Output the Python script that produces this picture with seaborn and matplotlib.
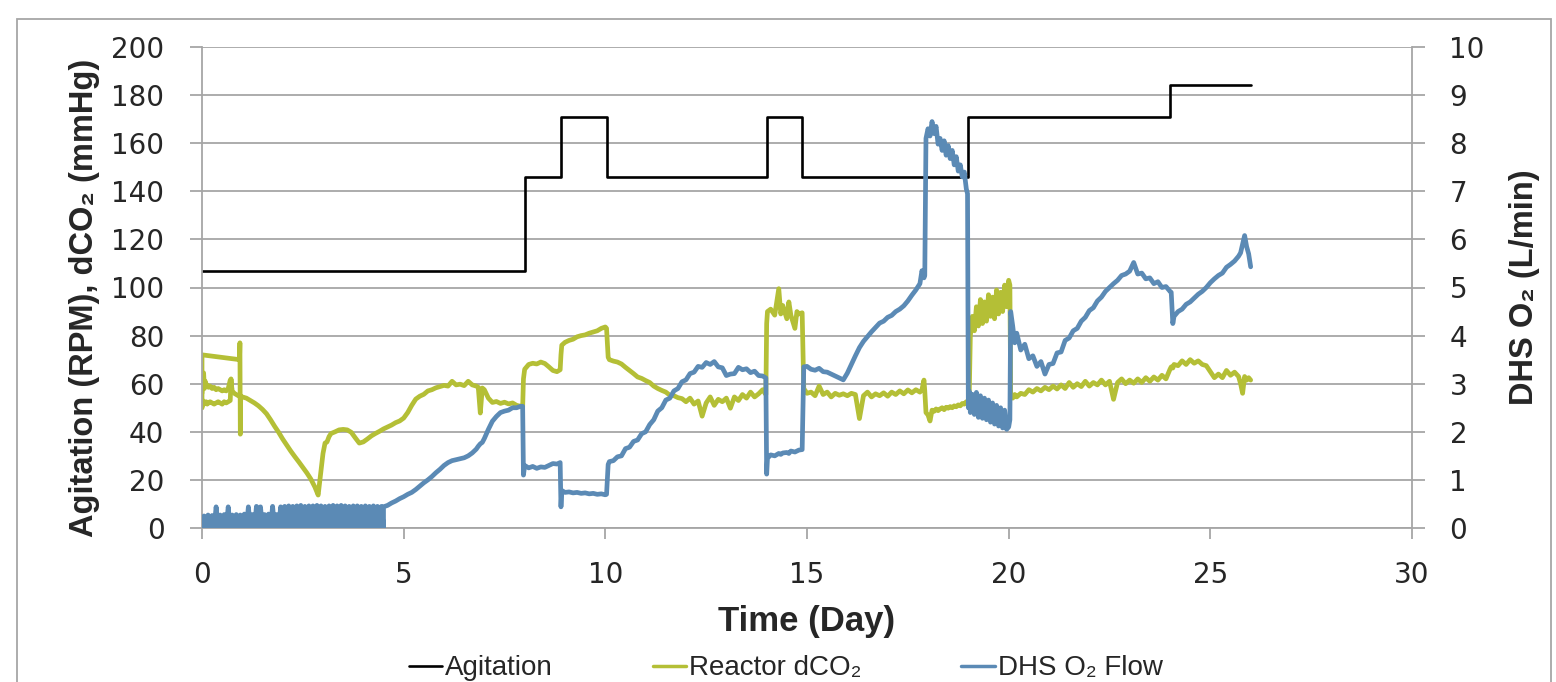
import numpy as np
import pandas as pd
import matplotlib
matplotlib.use("Agg")
import matplotlib.pyplot as plt
from matplotlib.lines import Line2D
from matplotlib.patches import Rectangle
import seaborn as sns

# ---------------- data ----------------
# Agitation set-point (RPM), step changes
agit_day = [0.0, 8.0, 8.9, 10.05, 14.0, 14.87, 19.0, 24.0, 26.0]
agit_rpm = [107, 146, 171, 146, 171, 146, 171, 184, 184]

# Reactor dCO2 (mmHg): start-up pieces (day 0 - 1)
co2_start_a_day = [0.0, 0.0, 0.93, 0.94, 0.95, 0.96]
co2_start_a_val = [50, 72, 70, 77, 39, 55]
co2_start_b_day = [0.0, 0.02, 0.05, 0.08, 0.1, 0.13, 0.16, 0.2, 0.25, 0.3,
                   0.35, 0.4, 0.45, 0.5, 0.55, 0.6, 0.65, 0.7, 0.72, 0.74]
co2_start_b_val = [50, 53, 51.5, 52, 52.5, 51.5, 52, 52.5, 52, 51.5,
                   52, 52.5, 52, 51.5, 52.5, 52, 52.5, 53, 62, 58]
co2_start_c_day = [0.0, 0.02, 0.04, 0.06, 0.08, 0.1, 0.13, 0.16, 0.2, 0.25,
                   0.3, 0.35, 0.4, 0.45, 0.5, 0.55, 0.6, 0.65, 0.7, 0.75,
                   0.8, 0.85, 0.9, 0.95]
co2_start_c_val = [56, 60, 64.5, 58, 61, 59, 59.5, 58.5, 59, 58,
                   58.5, 57.5, 58, 57.5, 57, 57.5, 57, 58, 61.5, 57,
                   56, 55.5, 55, 54.5]

# DHS O2 flow (L/min): pulsed sparging, day 0 - 4.5
o2_pulse_day = [0.0, 0.05, 0.1, 0.15, 0.2, 0.25, 0.3, 0.35, 0.4, 0.45,
                0.5, 0.55, 0.6, 0.65, 0.7, 0.75, 0.8, 0.85, 0.9, 0.95,
                1.0, 1.05, 1.1, 1.15, 1.2, 1.25, 1.3, 1.35, 1.4, 1.45,
                1.5, 1.55, 1.6, 1.65, 1.7, 1.75, 1.8, 1.85, 1.9, 1.95,
                2.0, 2.05, 2.1, 2.15, 2.2, 2.25, 2.3, 2.35, 2.4, 2.45,
                2.5, 2.55, 2.6, 2.65, 2.7, 2.75, 2.8, 2.85, 2.9, 2.95,
                3.0, 3.05, 3.1, 3.15, 3.2, 3.25, 3.3, 3.35, 3.4, 3.45,
                3.5, 3.55, 3.6, 3.65, 3.7, 3.75, 3.8, 3.85, 3.9, 3.95,
                4.0, 4.05, 4.1, 4.15, 4.2, 4.25, 4.3, 4.35, 4.4, 4.45,
                4.5]
o2_pulse_val = [0, 0.25, 0, 0.27, 0, 0.26, 0, 0.44, 0, 0.27,
                0, 0.28, 0, 0.44, 0, 0.27, 0, 0.28, 0, 0.27,
                0, 0.29, 0, 0.44, 0, 0.28, 0, 0.45, 0, 0.44,
                0, 0.28, 0, 0.29, 0, 0.45, 0, 0.28, 0, 0.44,
                0, 0.45, 0, 0.46, 0, 0.45, 0, 0.46, 0, 0.47,
                0, 0.45, 0, 0.46, 0, 0.46, 0, 0.47, 0, 0.46,
                0, 0.45, 0, 0.46, 0, 0.47, 0, 0.46, 0, 0.47,
                0, 0.46, 0, 0.45, 0, 0.46, 0, 0.46, 0, 0.45,
                0, 0.46, 0, 0.45, 0, 0.46, 0, 0.45, 0, 0.45,
                0]

# Main record, shared time base (day)
day = [1.0, 1.1, 1.2, 1.3, 1.4, 1.5, 1.6, 1.7, 1.8, 1.9,
       2.0, 2.1, 2.2, 2.3, 2.4, 2.5, 2.6, 2.7, 2.8, 2.88,
       2.95, 3.0, 3.05, 3.1, 3.15, 3.2, 3.3, 3.4, 3.5, 3.6,
       3.7, 3.8, 3.9, 4.0, 4.1, 4.2, 4.3, 4.4, 4.5, 4.6,
       4.7, 4.8, 4.9, 5.0, 5.1, 5.2, 5.3, 5.4, 5.5, 5.6,
       5.7, 5.8, 5.9, 6.0, 6.1, 6.2, 6.3, 6.4, 6.5, 6.6,
       6.7, 6.8, 6.85, 6.9, 6.95, 7.0, 7.1, 7.2, 7.3, 7.4,
       7.5, 7.6, 7.7, 7.8, 7.9, 7.95, 7.97, 8.0, 8.1, 8.2,
       8.3, 8.4, 8.5, 8.6, 8.7, 8.8, 8.88, 8.9, 8.92, 9.0,
       9.1, 9.2, 9.3, 9.4, 9.5, 9.6, 9.7, 9.8, 9.9, 10.0,
       10.03, 10.07, 10.1, 10.2, 10.3, 10.4, 10.5, 10.6, 10.7, 10.8,
       10.9, 11.0, 11.1, 11.2, 11.3, 11.4, 11.5, 11.6, 11.7, 11.8,
       11.9, 12.0, 12.1, 12.2, 12.3, 12.4, 12.5, 12.6, 12.7, 12.8,
       12.9, 13.0, 13.1, 13.2, 13.3, 13.4, 13.5, 13.6, 13.7, 13.8,
       13.9, 13.98, 14.0, 14.02, 14.1, 14.2, 14.3, 14.35, 14.4, 14.5,
       14.55, 14.6, 14.7, 14.75, 14.8, 14.88, 14.92, 15.0, 15.1, 15.2,
       15.3, 15.4, 15.5, 15.6, 15.7, 15.8, 15.9, 16.0, 16.1, 16.2,
       16.3, 16.4, 16.5, 16.6, 16.7, 16.8, 16.9, 17.0, 17.1, 17.2,
       17.3, 17.4, 17.5, 17.6, 17.7, 17.8, 17.85, 17.9, 17.92, 17.95,
       18.0, 18.05, 18.1, 18.15, 18.2, 18.25, 18.3, 18.35, 18.4, 18.45,
       18.5, 18.55, 18.6, 18.65, 18.7, 18.75, 18.8, 18.85, 18.9, 18.95,
       18.98, 19.0, 19.02, 19.05, 19.1, 19.15, 19.2, 19.25, 19.3, 19.35,
       19.4, 19.45, 19.5, 19.55, 19.6, 19.65, 19.7, 19.75, 19.8, 19.85,
       19.9, 19.95, 20.0, 20.03, 20.05, 20.1, 20.15, 20.2, 20.3, 20.4,
       20.5, 20.6, 20.7, 20.8, 20.9, 21.0, 21.1, 21.2, 21.3, 21.4,
       21.5, 21.6, 21.7, 21.8, 21.9, 22.0, 22.1, 22.2, 22.3, 22.4,
       22.5, 22.6, 22.7, 22.8, 22.9, 23.0, 23.1, 23.2, 23.3, 23.4,
       23.5, 23.6, 23.7, 23.8, 23.9, 24.0, 24.03, 24.07, 24.1, 24.2,
       24.3, 24.4, 24.5, 24.6, 24.7, 24.8, 24.9, 25.0, 25.1, 25.2,
       25.3, 25.4, 25.5, 25.6, 25.7, 25.75, 25.8, 25.85, 25.9, 25.95,
       26.0]

co2 = [54.5, 54, 53, 52, 50.8, 49.3, 47.5, 45, 42.3, 39.8,
       37, 34.5, 32, 29.7, 27.5, 25.2, 22.9, 20.3, 17, 13.7,
       24, 31, 35.3, 35.8, 38, 39.3, 40, 40.8, 41, 40.8,
       39.8, 37.5, 35.3, 35.8, 37, 38.3, 39.3, 40.2, 41.2, 42,
       42.8, 43.8, 44.5, 45.7, 48, 51, 53.6, 54.8, 55.6, 57,
       57.5, 58.3, 58.8, 59.3, 59, 61, 59.5, 59.8, 59.2, 61,
       59.5, 59, 58.5, 47.8, 58.2, 57.5, 54, 52.2, 52.6, 51.8,
       52.3, 51.6, 52, 51, 50.6, 50.2, 62, 66, 68, 68.5,
       68.2, 69, 68.4, 67, 65.5, 65, 65.8, 72, 76, 77.2,
       78, 78.5, 79.5, 80, 80.3, 81, 81.5, 82, 83, 83.6,
       83, 71, 70, 69.4, 69, 68.2, 66.8, 65.5, 64.2, 62.8,
       62.2, 61.3, 60.5, 59, 58, 57.2, 56.5, 55.2, 55, 54.2,
       53.8, 52.5, 54, 51.5, 52.8, 46.5, 52, 54.5, 51, 53.5,
       52.5, 54, 49.8, 54.5, 53, 55.5, 54, 56.5, 54.5, 55.8,
       57.5, 55.5, 85, 90, 91, 88.5, 99.5, 89, 92.5, 87,
       94, 88.5, 83, 90, 89, 89.5, 58, 56, 56.5, 55,
       59, 55.5, 56.5, 54.5, 56, 55.2, 55.8, 55, 56, 55.5,
       45.5, 55, 56.5, 54.5, 55.8, 55, 56.2, 54.8, 56.5, 55.5,
       57, 55.8, 57.4, 56.2, 57.5, 56.5, 57.5, 61.5, 57, 48,
       47, 44.5, 49, 48.5, 49.5, 48.8, 49.5, 50, 49.2, 50.2,
       49.8, 50.5, 50, 50.8, 50.4, 51.2, 50.8, 51.8, 51.5, 52.5,
       52, 52.4, 53.2, 80, 88, 82, 92, 84, 95, 85,
       94, 86, 97, 88, 96, 87, 99, 89, 98, 90,
       101, 92, 103, 101, 55, 54, 55.5, 54.5, 56, 55.5,
       57.5, 56.5, 58, 57, 58.5, 57.5, 59, 57.8, 59.5, 58,
       60.5, 58.5, 60, 58.8, 61, 59, 60.5, 59.5, 61.5, 59.5,
       61, 53.5, 60.5, 62, 60, 61.5, 60.2, 62, 60.5, 62.5,
       61, 62.8, 61.5, 63.5, 62, 66, 67, 66.5, 68, 67.5,
       69.5, 68, 70, 68.5, 69.5, 68, 67.5, 65, 62.5, 64,
       62.5, 65.5, 63.5, 64.8, 63, 60, 56, 63, 61.5, 62.5,
       61.5]

o2 = [None, None, None, None, None, None, None, None, None, None,
      None, None, None, None, None, None, None, None, None, None,
      None, None, None, None, None, None, None, None, None, None,
      None, None, None, None, None, None, None, None, 0.44, 0.47,
      0.52, 0.56, 0.61, 0.65, 0.7, 0.74, 0.8, 0.87, 0.94, 1.0,
      1.07, 1.15, 1.22, 1.3, 1.36, 1.4, 1.42, 1.44, 1.46, 1.5,
      1.56, 1.64, 1.7, 1.75, 1.78, 1.86, 2.05, 2.22, 2.32, 2.4,
      2.43, 2.45, 2.5, 2.5, 2.53, 2.53, 1.1, 1.3, 1.25, 1.28,
      1.24, 1.27, 1.26, 1.3, 1.34, 1.33, 1.36, 0.44, 0.78, 0.74,
      0.75, 0.73, 0.74, 0.72, 0.73, 0.71, 0.72, 0.7, 0.71, 0.69,
      0.7, 1.32, 1.38, 1.4, 1.48, 1.5, 1.65, 1.68, 1.8, 1.83,
      1.96, 2.0, 2.15, 2.25, 2.43, 2.5, 2.66, 2.7, 2.85, 2.9,
      3.04, 3.08, 3.21, 3.24, 3.36, 3.34, 3.44, 3.4, 3.46, 3.35,
      3.33, 3.17, 3.2, 3.21, 3.34, 3.29, 3.31, 3.23, 3.26, 3.17,
      3.16, 3.12, 1.12, 1.45, 1.52, 1.5, 1.55, 1.53, 1.56, 1.57,
      1.55, 1.6, 1.58, 1.6, 1.62, 1.63, 3.35, 3.36, 3.3, 3.28,
      3.32, 3.25, 3.24, 3.2, 3.16, 3.12, 3.08, 3.22, 3.4, 3.58,
      3.75, 3.88, 3.98, 4.08, 4.17, 4.26, 4.3, 4.38, 4.42, 4.5,
      4.55, 4.62, 4.72, 4.84, 4.95, 5.08, 5.35, 5.2, 5.25, 8.1,
      8.3, 8.15, 8.45, 8.2, 8.35, 7.98, 8.1, 7.85, 8.05, 7.75,
      7.95, 7.68, 7.85, 7.55, 7.72, 7.42, 7.55, 7.3, 7.4, 7.05,
      6.95, 2.5, 2.85, 2.4, 2.78, 2.36, 2.82, 2.3, 2.75, 2.28,
      2.7, 2.25, 2.66, 2.2, 2.6, 2.16, 2.55, 2.12, 2.5, 2.08,
      2.45, 2.05, 2.1, 2.25, 4.5, 4.2, 3.85, 4.05, 3.7, 3.82,
      3.52, 3.58, 3.36, 3.46, 3.2, 3.4, 3.42, 3.64, 3.66, 3.9,
      3.95, 4.1, 4.15, 4.3, 4.38, 4.52, 4.58, 4.72, 4.8, 4.92,
      5.0, 5.08, 5.15, 5.25, 5.28, 5.34, 5.52, 5.28, 5.3, 5.18,
      5.2, 5.08, 5.12, 5.0, 5.02, 4.92, 4.9, 4.25, 4.4, 4.5,
      4.55, 4.65, 4.7, 4.78, 4.86, 4.92, 5.0, 5.1, 5.18, 5.25,
      5.3, 5.42, 5.48, 5.55, 5.65, 5.72, 5.9, 6.08, 5.85, 5.7,
      5.43]

x_ticks = [0, 5, 10, 15, 20, 25, 30]
y_ticks_left = [0, 20, 40, 60, 80, 100, 120, 140, 160, 180, 200]
y_ticks_right = [0, 1, 2, 3, 4, 5, 6, 7, 8, 9, 10]

labels = ["Agitation", "Reactor dCO\u2082", "DHS O\u2082 Flow"]

# ---------------- frames ----------------
assert len(day) == len(co2) == len(o2)
co2_df = pd.concat([
    pd.DataFrame({"day": co2_start_a_day, "val": co2_start_a_val, "seg": 0}),
    pd.DataFrame({"day": co2_start_b_day, "val": co2_start_b_val, "seg": 1}),
    pd.DataFrame({"day": co2_start_c_day + day, "val": co2_start_c_val + co2, "seg": 2}),
], ignore_index=True)

o2_df = pd.concat([
    pd.DataFrame({"day": o2_pulse_day, "val": o2_pulse_val}),
    pd.DataFrame({"day": day, "val": o2}).dropna(),
], ignore_index=True)
o2_df["val"] = o2_df["val"].astype(float)

agit_df = pd.DataFrame({"day": agit_day, "val": agit_rpm})

# ---------------- style ----------------
sns.set_style("white")
plt.rcParams["font.family"] = ["DejaVu Sans"]

GREEN = "#B4BF36"
BLUE = "#5B8AB5"
GRID = "#A6A6A6"
TITLE_FONT = ["Liberation Sans", "DejaVu Sans"]

fig = plt.figure(figsize=(15.56, 6.82), dpi=100)
ax = fig.add_axes([202 / 1556, 1 - 528 / 682, 1210 / 1556, 481 / 682])
ax2 = ax.twinx()

sns.lineplot(data=agit_df, x="day", y="val", ax=ax, color="black", linewidth=1.9,
             drawstyle="steps-post", estimator=None, sort=False)
sns.lineplot(data=co2_df, x="day", y="val", units="seg", ax=ax, color=GREEN,
             linewidth=3.4, estimator=None, sort=False)
sns.lineplot(data=o2_df, x="day", y="val", ax=ax2, color=BLUE, linewidth=3.4,
             estimator=None, sort=False)

ax.set_xlim(0, 30)
ax.set_ylim(0, 200)
ax2.set_ylim(0, 10)
ax.set_xticks(x_ticks)
ax.set_yticks(y_ticks_left)
ax2.set_yticks(y_ticks_right)

ax.yaxis.grid(True, color=GRID, lw=1.3)
ax.xaxis.grid(False)
ax2.grid(False)
ax.set_axisbelow(True)

for a in (ax, ax2):
    a.spines["top"].set_visible(False)
    for s in ("left", "right", "bottom"):
        a.spines[s].set_color(GRID)
        a.spines[s].set_linewidth(1.3)
ax.spines["right"].set_visible(False)
ax2.spines["left"].set_visible(False)
ax2.spines["bottom"].set_visible(False)

ax.tick_params(axis="y", direction="out", length=9, width=1.3, color=GRID,
               labelsize=20, pad=18, left=True)
ax.tick_params(axis="x", direction="out", length=8, width=1.3, color=GRID,
               labelsize=20, pad=16, bottom=True)
ax2.tick_params(axis="y", direction="out", length=9, width=1.3, color=GRID,
                labelsize=20, pad=18, right=True)

ax.set_xlabel("Time (Day)", fontsize=25, fontweight="bold", family=TITLE_FONT)
ax.xaxis.set_label_coords(0.5, -0.195)
ax.xaxis.label.set_va("center")
ax.set_ylabel("Agitation (RPM), dCO\u2082 (mmHg)", fontsize=23.5, fontweight="bold",
              family=TITLE_FONT)
ax.yaxis.set_label_coords(-0.0975, 0.478)
ax.yaxis.label.set_va("center")
ax2.set_ylabel("DHS O\u2082 (L/min)", fontsize=23.5, fontweight="bold",
               family=TITLE_FONT, rotation=90)
ax2.yaxis.set_label_coords(1.093, 0.5)
ax2.yaxis.label.set_va("center")

handles = [Line2D([], [], color="black", lw=1.9),
           Line2D([], [], color=GREEN, lw=2.5),
           Line2D([], [], color=BLUE, lw=2.5)]
fig.legend(handles, labels, loc="center", bbox_to_anchor=(0.505, 0.02), ncol=3,
           frameon=False, handlelength=1.2, handletextpad=0.1, columnspacing=3.6,
           prop={"family": TITLE_FONT, "size": 20})

fig.patches.append(Rectangle((17 / 1556, -0.05), (1551 - 17) / 1556, 1 - 19 / 682 + 0.05,
                             transform=fig.transFigure, fill=False, ec=GRID, lw=1.3))

fig.savefig("out.png", dpi=100)
